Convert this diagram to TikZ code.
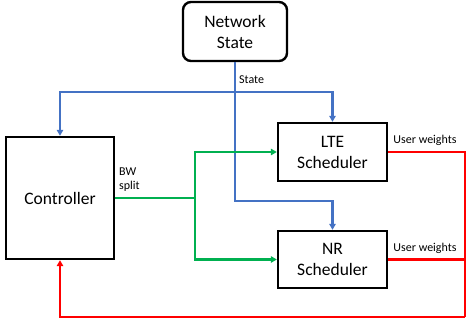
\documentclass[tikz,border=0pt]{standalone}
\usepackage{fontspec}
\setmainfont{Carlito}
\usetikzlibrary{arrows.meta}
\definecolor{cblue}{RGB}{68,114,196}
\definecolor{cgreen}{RGB}{0,176,80}
\definecolor{cred}{RGB}{255,0,0}
\begin{document}
\begin{tikzpicture}[x=1pt,y=-1pt,
  blk/.style={draw=black,line width=2.4pt,fill=white,align=center,inner sep=0pt,
    font=\fontsize{17.5}{21}\selectfont},
  lab/.style={font=\fontsize{12}{14}\selectfont,inner sep=0pt,align=left},
  ar/.style={-{Triangle[length=6pt,width=6.5pt]}},
  bl/.style={draw=cblue,line width=2.2pt},
  gr/.style={draw=cgreen,line width=2.2pt},
  rd/.style={draw=cred,line width=2.2pt}]
\useasboundingbox (0,0) rectangle (466,327);
\node[blk,rounded corners=8pt,minimum width=104pt,minimum height=59pt] (ns) at (235,31.5) {Network\\State};
\node[blk,minimum width=108pt,minimum height=122pt] (ctrl) at (60,198) {Controller};
\node[blk,minimum width=109pt,minimum height=58pt] (lte) at (332.5,152) {LTE\\Scheduler};
\node[blk,minimum width=109pt,minimum height=57pt] (nr) at (332.5,259.5) {NR\\Scheduler};
\coordinate (bj) at (235,92);
\coordinate (bd) at (235,201);
\coordinate (gj) at (195,198);
\coordinate (rc) at (465,152);
\coordinate (rb) at (465,317);
\coordinate (rn) at (465,259.5);
% blue
\draw[bl,ar] (ns.south) -- (bd) -| (nr.north);
\draw[bl,ar] (bj) -| (ctrl.north);
\draw[bl,ar] (bj) -| (lte.north);
% green
\draw[gr] (ctrl.east) -- (gj);
\draw[gr,ar] (gj) |- (lte.west);
\draw[gr,ar] (gj) |- (nr.west);
% red
\draw[rd] (lte.east) -- (rc) -- (rb);
\draw[rd,ar] (rb) -| (ctrl.south);
\draw[rd] (nr.east) -- (rn);
% labels
\node[lab,anchor=west] (st) at (239,80) {State};
\node[lab,anchor=west] (bw) at (119,180) {BW\\split};
\node[lab] (uw1) at (425,140) {User weights};
\node[lab] (uw2) at (425,248) {User weights};
\end{tikzpicture}
\end{document}
